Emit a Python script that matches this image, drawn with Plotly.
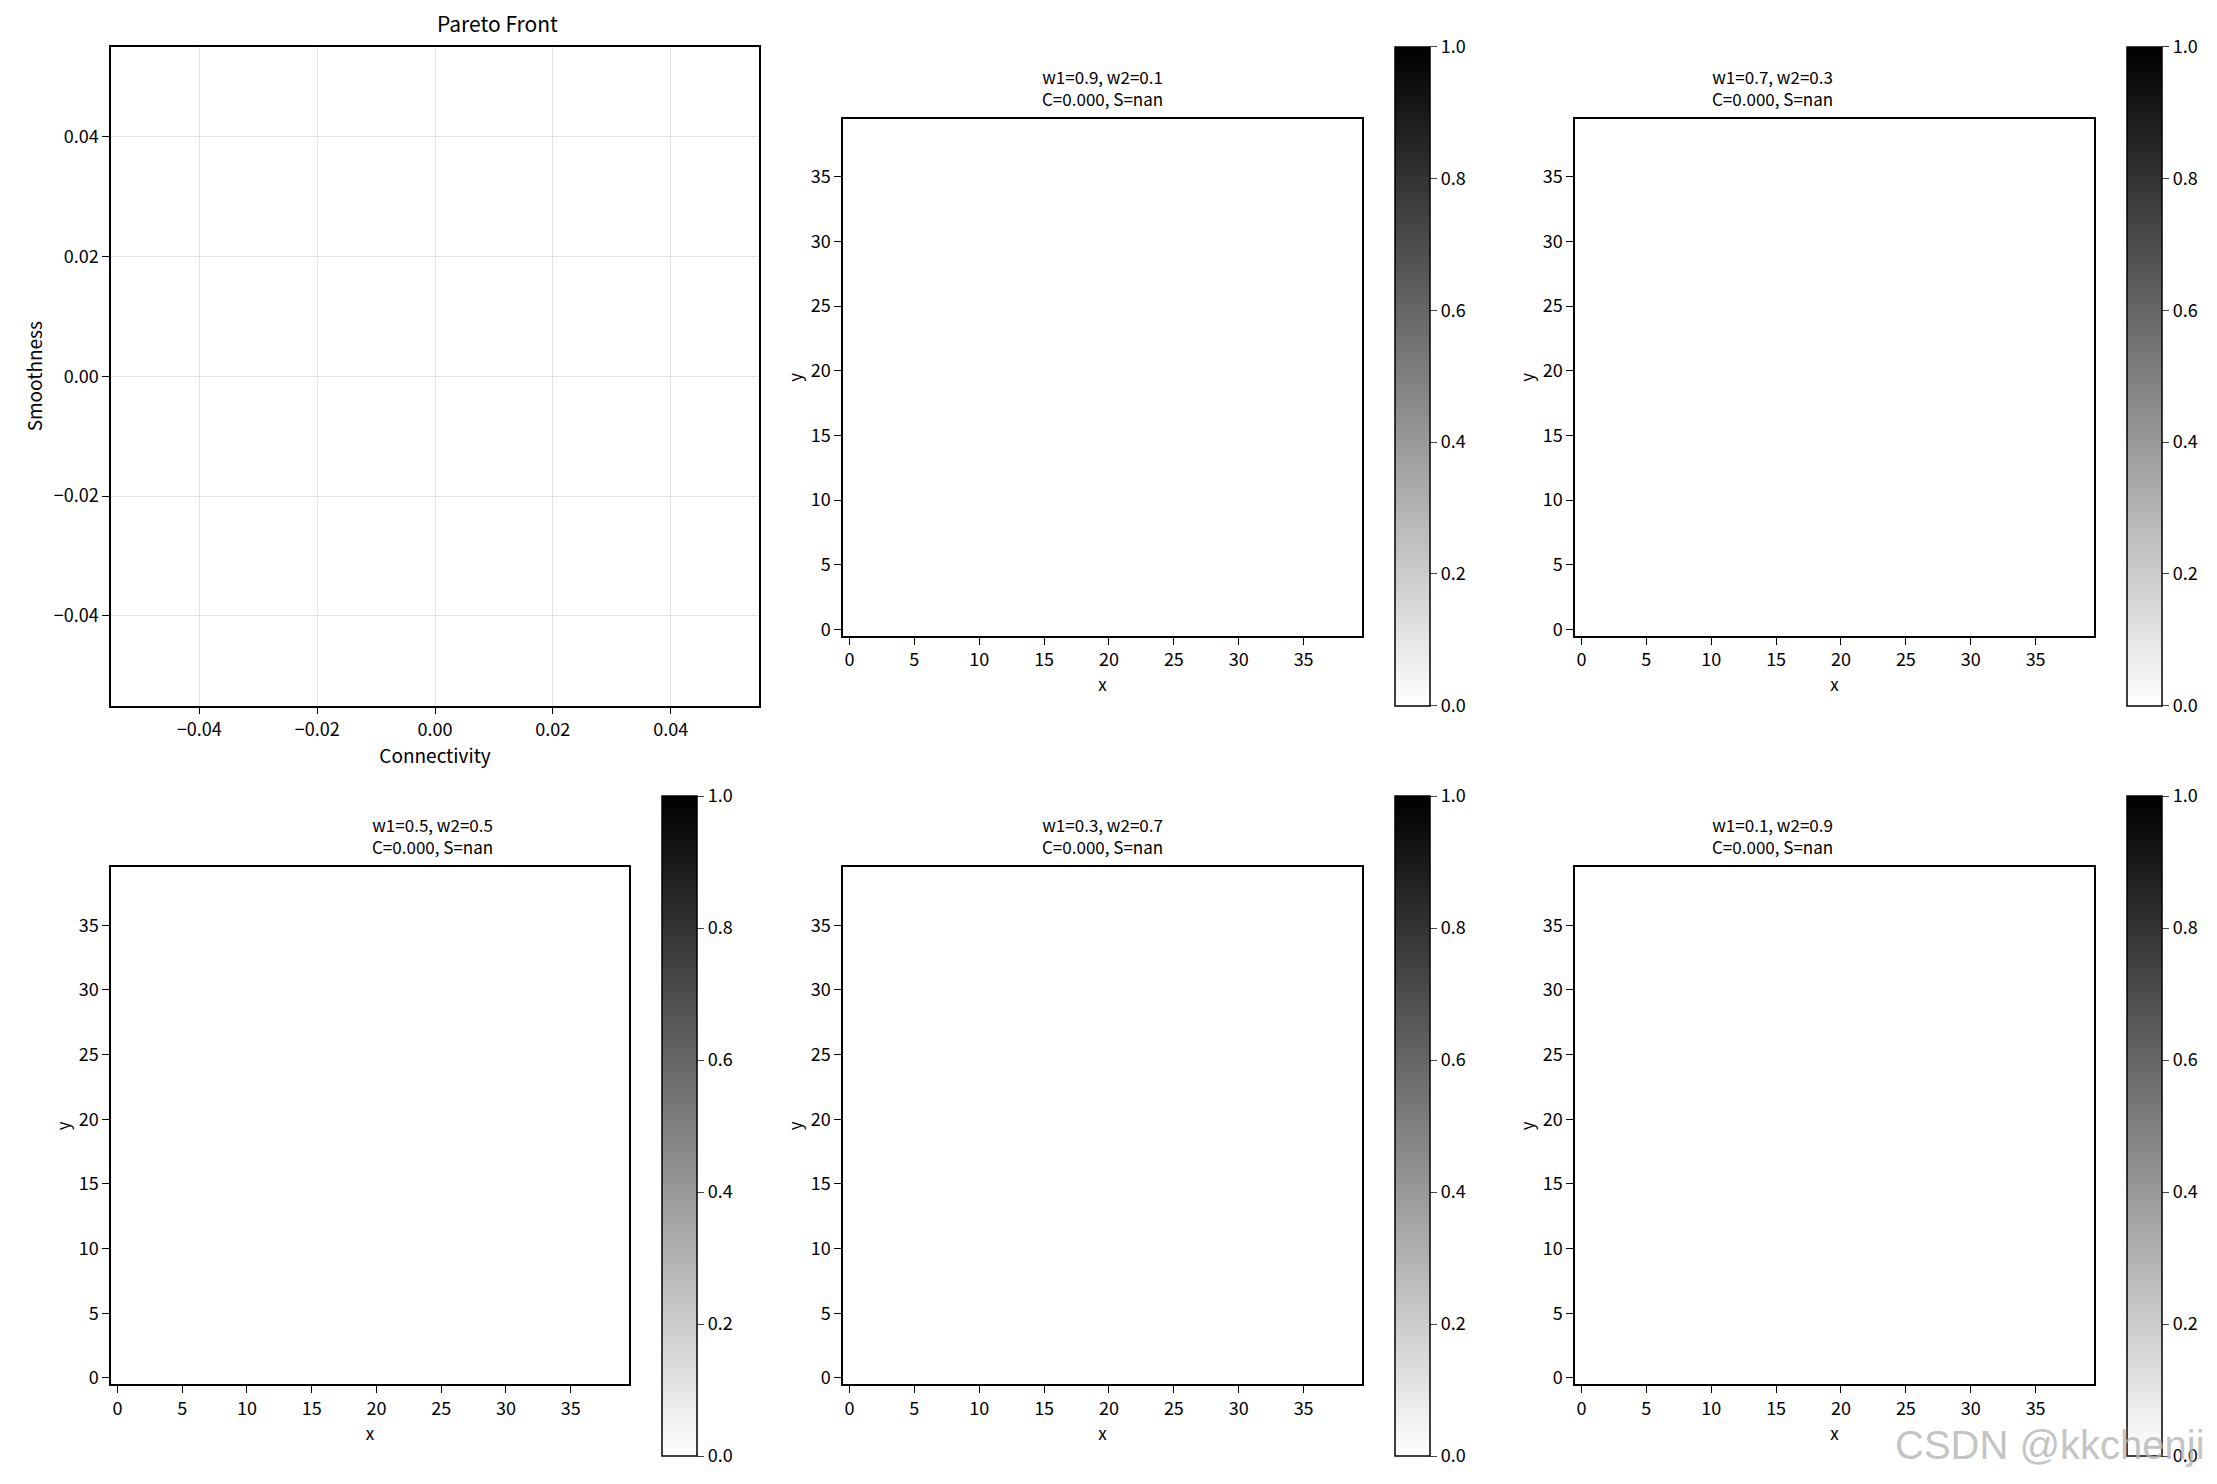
import plotly.graph_objects as go

titles = ["w1=0.9, w2=0.1<br>C=0.000, S=nan", "w1=0.7, w2=0.3<br>C=0.000, S=nan",
          "w1=0.5, w2=0.5<br>C=0.000, S=nan", "w1=0.3, w2=0.7<br>C=0.000, S=nan",
          "w1=0.1, w2=0.9<br>C=0.000, S=nan"]
pareto_c = []
pareto_s = []
img_ticks = [0, 5, 10, 15, 20, 25, 30, 35]
par_ticks = [-0.04, -0.02, 0.0, 0.02, 0.04]
par_labels = ["\u22120.04", "\u22120.02", "0.00", "0.02", "0.04"]
cb_ticks = [0, 0.2, 0.4, 0.6, 0.8, 1.0]
cb_labels = ["0.0", "0.2", "0.4", "0.6", "0.8", "1.0"]

W, H = 2217, 1484
OX, OY = 6, 6
F = "Noto Sans CJK SC"
fig = go.Figure()
def px(a, b): return [(a - OX) / W, (b - OX) / W]
def py(top, bot): return [1 - (bot - OY) / H, 1 - (top - OY) / H]

axstyle = dict(showline=True, linecolor="black", linewidth=1.5, mirror=True, ticks="outside",
               ticklen=7, tickcolor="black", tickfont=dict(size=18, color="black", family=F),
               zeroline=False)
fig.add_trace(go.Scatter(x=pareto_c, y=pareto_s, mode="markers", xaxis="x", yaxis="y", showlegend=False))
fig.update_layout(
    xaxis=dict(domain=px(109, 757), range=[-0.055, 0.055], tickvals=par_ticks, ticktext=par_labels,
               showgrid=True, gridcolor="#e3e3e3", anchor="y",
               title=dict(text="Connectivity", font=dict(size=19, family=F, color="black"), standoff=6), **axstyle),
    yaxis=dict(domain=py(45, 706), range=[-0.055, 0.055], tickvals=par_ticks, ticktext=par_labels,
               showgrid=True, gridcolor="#e3e3e3", anchor="x",
               title=dict(text="Smoothness", font=dict(size=19, family=F, color="black"), standoff=6), **axstyle))
ann = [dict(text="Pareto Front", x=((109 + 757) / 2 - OX) / W, y=1 - (38 - OY) / H, xref="paper", yref="paper",
            yanchor="bottom", showarrow=False, font=dict(size=21, family=F, color="black"))]

cells = [((841, 1360), (117, 636), 1393, (45, 706)),
         ((1573, 2092), (117, 636), 2125, (45, 706)),
         ((109, 627), (868, 1387), 660, (797, 1459)),
         ((841, 1360), (868, 1387), 1393, (797, 1459)),
         ((1573, 2092), (868, 1387), 2125, (797, 1459))]
for i, ((x0, x1), (y0, y1), cbx, (cbt, cbb)) in enumerate(cells):
    n = i + 2
    fig.add_trace(go.Scatter(x=[None], y=[None], mode="markers", xaxis=f"x{n}", yaxis=f"y{n}",
                             hoverinfo="skip", showlegend=False,
                             marker=dict(color=[0.0], cmin=0, cmax=1, showscale=True,
                                         colorscale=[[0, "white"], [1, "black"]],
                                         colorbar=dict(x=(cbx - OX) / W, xanchor="left", y=1 - (cbb - OY) / H,
                                                       yanchor="bottom", len=(cbb - cbt) / H, lenmode="fraction",
                                                       thickness=35, outlinecolor="black", outlinewidth=1.5,
                                                       ticks="outside", ticklen=7, tickvals=cb_ticks,
                                                       ticktext=cb_labels,
                                                       tickfont=dict(size=18, family=F, color="black"),
                                                       xpad=0, ypad=0))))
    fig.layout[f"xaxis{n}"] = dict(domain=px(x0, x1), range=[-0.5, 39.5], tickvals=img_ticks, anchor=f"y{n}",
                                   showgrid=False,
                                   title=dict(text="x", font=dict(size=17, family=F, color="black"), standoff=4), **axstyle)
    fig.layout[f"yaxis{n}"] = dict(domain=py(y0, y1), range=[-0.5, 39.5], tickvals=img_ticks, anchor=f"x{n}",
                                   showgrid=False,
                                   title=dict(text="y", font=dict(size=17, family=F, color="black"), standoff=4), **axstyle)
    ann.append(dict(text=titles[i], x=((x0 + x1) / 2 - OX) / W, y=1 - (y0 - 6 - OY) / H, xref="paper", yref="paper",
                    yanchor="bottom", showarrow=False, font=dict(size=17, family=F, color="black")))
ann.append(dict(text="CSDN @kkchenji", x=(2205 - OX) / W, y=1 - (1472 - OY) / H, xref="paper", yref="paper",
                xanchor="right", yanchor="bottom", showarrow=False,
                font=dict(size=40, family="Liberation Sans", color="rgba(180,180,180,0.8)")))
fig.update_layout(annotations=ann, width=W, height=H, margin=dict(l=0, r=0, t=0, b=0),
                  plot_bgcolor="white", paper_bgcolor="white", showlegend=False)
fig.write_html("out.html")
